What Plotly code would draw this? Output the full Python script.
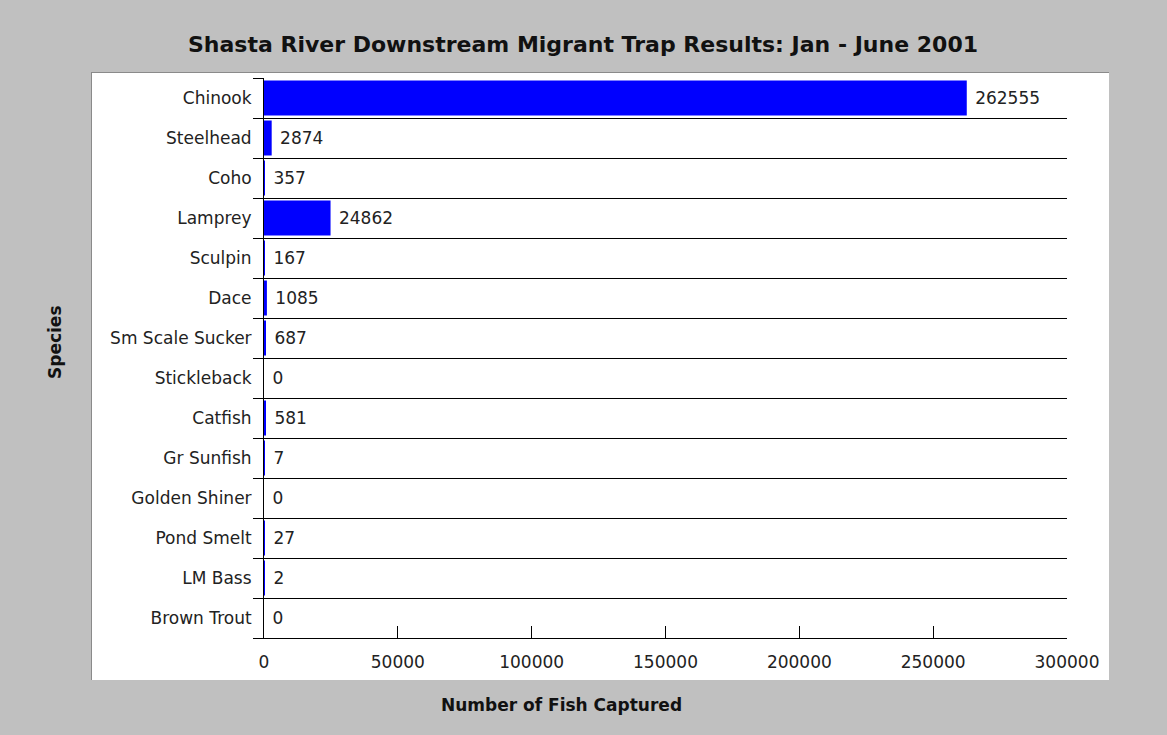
import plotly.graph_objects as go

species = ["Chinook", "Steelhead", "Coho", "Lamprey", "Sculpin", "Dace",
           "Sm Scale Sucker", "Stickleback", "Catfish", "Gr Sunfish",
           "Golden Shiner", "Pond Smelt", "LM Bass", "Brown Trout"]
counts = [262555, 2874, 357, 24862, 167, 1085, 687, 0, 581, 7, 0, 27, 2, 0]
x_ticks = [0, 50000, 100000, 150000, 200000, 250000, 300000]

W, H = 1167, 735
L, R, T, B = 264, 100, 78, 97
pw, ph = W - L - R, H - T - B

def px_x(p):
    return (p - L) / pw

def px_y(p):
    return (H - B - p) / ph

n = len(species)
pos = list(range(n))
font_main = "DejaVu Sans"
font_bold = "DejaVu Sans"

fig = go.Figure(go.Bar(
    x=counts, y=pos, orientation="h",
    marker=dict(color="#0000FF", line=dict(width=0)),
    width=0.875,
    text=[" " + str(v) for v in counts],
    textposition="outside",
    textfont=dict(family=font_main, size=17, color="#222222"),
    cliponaxis=False,
))

shapes = [
    dict(type="rect", xref="paper", yref="paper",
         x0=px_x(92), x1=px_x(1109), y0=px_y(680), y1=px_y(72),
         fillcolor="white", line=dict(width=0), layer="below"),
    dict(type="line", xref="paper", yref="paper",
         x0=px_x(92), x1=px_x(1109), y0=px_y(72.5), y1=px_y(72.5),
         line=dict(color="#8a8a8a", width=1), layer="below"),
    dict(type="line", xref="paper", yref="paper",
         x0=px_x(91.5), x1=px_x(91.5), y0=px_y(680), y1=px_y(72),
         line=dict(color="#8a8a8a", width=1), layer="below"),
]

annotations = [
    dict(text="<b>Shasta River Downstream Migrant Trap Results: Jan - June 2001</b>",
         xref="paper", yref="paper", x=px_x(583), y=px_y(44),
         xanchor="center", yanchor="middle", showarrow=False,
         font=dict(family=font_bold, size=22, color="#111111")),
    dict(text="<b>Number of Fish Captured</b>",
         xref="paper", yref="paper", x=px_x(561), y=px_y(705),
         xanchor="center", yanchor="middle", showarrow=False,
         font=dict(family=font_bold, size=17, color="#111111")),
    dict(text="<b>Species</b>", textangle=-90,
         xref="paper", yref="paper", x=px_x(55), y=px_y(342),
         xanchor="center", yanchor="middle", showarrow=False,
         font=dict(family=font_bold, size=17, color="#111111")),
]

fig.update_layout(
    width=W, height=H,
    margin=dict(l=L, r=R, t=T, b=B, pad=0),
    paper_bgcolor="#C0C0C0",
    plot_bgcolor="white",
    showlegend=False,
    shapes=shapes,
    annotations=annotations,
    bargap=0.125,
)

fig.update_xaxes(
    range=[0, 300000], tickvals=x_ticks, ticktext=[str(v) for v in x_ticks],
    ticks="inside", ticklen=12, tickcolor="black", tickwidth=1,
    showline=True, linecolor="black", linewidth=1,
    showgrid=False, zeroline=False,
    ticklabelstandoff=9,
    tickfont=dict(family=font_main, size=17, color="#222222"),
)

fig.update_yaxes(
    range=[n - 0.5, -0.5], tickvals=pos, ticktext=species,
    ticks="", showline=True, linecolor="black", linewidth=1,
    showgrid=False, zeroline=False,
    ticklabelstandoff=8,
    minor=dict(tick0=0.5, dtick=1, ticks="outside", ticklen=10,
               tickcolor="black", tickwidth=1,
               showgrid=True, gridcolor="black", gridwidth=1),
    tickfont=dict(family=font_main, size=17, color="#222222"),
)

fig.write_html("out.html")
